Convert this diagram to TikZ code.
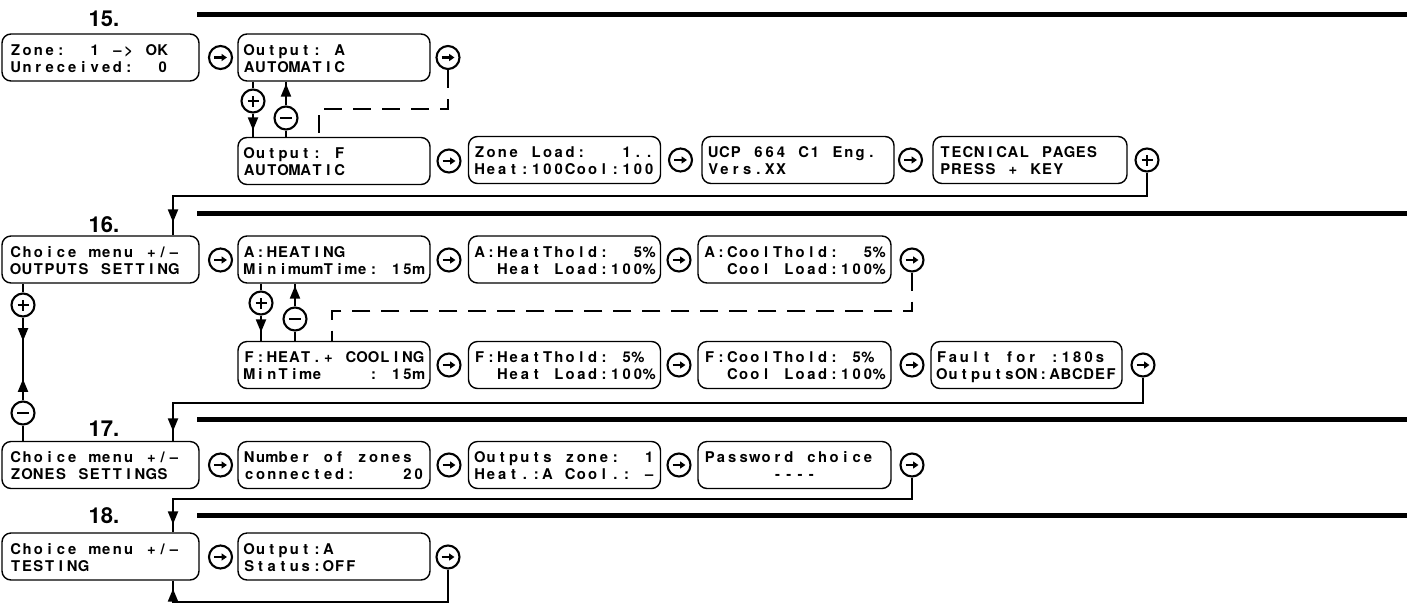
\documentclass[tikz,border=0pt]{standalone}
\usepackage{fontspec}
\usetikzlibrary{arrows.meta,decorations.markings}
\newfontfamily\heros{TeX Gyre Heros}
\newdimen\lcdcw \lcdcw=11.3pt
\newdimen\lcdtw \lcdtw=180.8pt
\ExplSyntaxOn
\cs_new:Npn \lcdline #1
  {
    \str_map_inline:nn {#1}
      {
        \str_if_eq:nnTF {##1} {_}
          { \hbox_to_wd:nn {\lcdcw} {} }
          {
            \str_if_eq:nnTF {##1} {|}
              { \hbox_to_wd:nn {\lcdcw} { \hss \% \hss } }
              { \hbox_to_wd:nn {\lcdcw} { \hss ##1 \hss } }
          }
      }
  }
\ExplSyntaxOff
\newcommand\two[2]{\vbox{\baselineskip=17pt\lineskiplimit=-100pt\lineskip=0pt
  \hbox to \lcdtw{\smash{\lcdline{#1}}\hss\rule[-1pt]{0pt}{14pt}}%
  \hbox to \lcdtw{\smash{\lcdline{#2}}\hss\rule[-1pt]{0pt}{2pt}}}}
\begin{document}
\begin{tikzpicture}[x=1pt,y=-1pt,
  lcd/.style={draw, line width=1.4pt, rounded corners=9pt, minimum width=192pt,
    minimum height=47pt, inner sep=0pt, font=\heros\bfseries\fontsize{14.8}{17}\selectfont},
  btn/.style={circle, draw, line width=2.1pt, minimum size=23pt, inner sep=0pt},
  nxt/.style={btn, path picture={\draw[line width=2.3pt, -{Triangle[length=5.5pt,width=7pt]}]
      ([xshift=-6.5pt]path picture bounding box.center) -- ([xshift=6.5pt]path picture bounding box.center);}},
  pls/.style={btn, path picture={\draw[line width=2.6pt]
      ([xshift=-5.5pt]path picture bounding box.center) -- ([xshift=5.5pt]path picture bounding box.center)
      ([yshift=-5.5pt]path picture bounding box.center) -- ([yshift=5.5pt]path picture bounding box.center);}},
  mns/.style={btn, path picture={\draw[line width=2.6pt]
      ([xshift=-6pt]path picture bounding box.center) -- ([xshift=6pt]path picture bounding box.center);}},
  sec/.style={anchor=base, inner sep=0pt, font=\heros\bfseries\fontsize{22}{22}\selectfont},
  conn/.style={line width=2.2pt},
  dashconn/.style={line width=2.2pt, dash pattern=on 18pt off 11pt},
  bar/.style={line width=5pt},
  tipfwd/.style={postaction={decorate, decoration={markings,
      mark=at position #1 with {\arrow{Triangle[length=13pt,width=10pt]}}}}},
  tipbwd/.style={postaction={decorate, decoration={markings,
      mark=at position #1 with {\arrowreversed{Triangle[length=13pt,width=10pt]}}}}}
]
\useasboundingbox (0,0) rectangle (1407,606);

% ---------- 15 ----------
\node[sec] (s15) at (104,26) {15.};
\draw[bar] (197,14.5) -- (1407,14.5);
\node[lcd, minimum width=197pt] (zone) at (100.5,57.5) {\two{Zone:__1_–>_OK}{Unreceived:__0}};
\node[nxt] (b1) at (220.5,57.5) {};
\node[lcd] (outA) at (334,57.5) {\two{Output:_A}{AUTOMATIC}};
\node[nxt] (b2) at (448,57.5) {};
\node[pls] (p15) at (253,101) {};
\node[mns] (m15) at (286,118) {};
\node[lcd] (outF) at (334,161) {\two{Output:_F}{AUTOMATIC}};
\node[nxt] (b3) at (449,161) {};
\node[lcd] (zload) at (564.5,160) {\two{Zone_Load:___1..}{Heat:100Cool:100}};
\node[nxt] (b4) at (680.5,160) {};
\node[lcd] (ucp) at (798,160) {\two{UCP_664_C1_Eng.}{Vers.XX}};
\node[nxt] (b5) at (910.5,160) {};
\node[lcd, minimum width=194pt] (tec) at (1030,160) {\two{TECNICAL_PAGES}{PRESS_+_KEY}};
\node[pls] (p15b) at (1147,160) {};

\draw[conn] (outA.south -| p15) -- (p15);
\draw[conn, tipfwd=-6.5pt] (p15) -- (p15 |- outF.north);
\draw[conn] (m15) -- (m15 |- outF.north);
\draw[conn, tipfwd=-2pt] (m15) -- (m15 |- outA.south);
\coordinate (d15) at (319,109);
\draw[dashconn] (b2) |- (d15) -- (d15 |- outF.north);

% ---------- 16 ----------
\node[sec] (s16) at (104,232) {16.};
\draw[bar] (197,213.5) -- (1407,213.5);
\node[lcd, minimum width=197pt] (c16) at (100.5,259.5) {\two{Choice_menu_+/–}{OUTPUTS_SETTING}};
\node[nxt] (b6) at (220.5,260) {};
\node[lcd] (ah) at (334,259.5) {\two{A:HEATING}{MinimumTime:_15m}};
\node[nxt] (b7) at (449,260) {};
\node[lcd] (aht) at (564.5,259.5) {\two{A:HeatThold:__5|}{__Heat_Load:100|}};
\node[nxt] (b8) at (679,260) {};
\node[lcd, minimum width=193pt] (act) at (794.5,259.5) {\two{A:CoolThold:__5|}{__Cool_Load:100|}};
\node[nxt] (b9) at (912,260) {};
\node[pls] (p16) at (261,303) {};
\node[mns] (m16) at (295,319) {};
\node[lcd] (fh) at (334,365) {\two{F:HEAT.+_COOLING}{MinTime____:_15m}};
\node[nxt] (b10) at (449,365) {};
\node[lcd] (fht) at (564.5,365) {\two{F:HeatThold:_5|}{__Heat_Load:100|}};
\node[nxt] (b11) at (679,365) {};
\node[lcd, minimum width=193pt] (fct) at (794.5,365) {\two{F:CoolThold:_5|}{__Cool_Load:100|}};
\node[nxt] (b12) at (912,365) {};
\node[lcd, minimum width=191pt] (flt) at (1026.5,365) {\two{Fault_for_:180s}{OutputsON:ABCDEF}};
\node[nxt] (b13) at (1143,365) {};
\node[pls] (lp) at (23,305) {};
\node[mns] (lm) at (23,413) {};

\coordinate (r1) at (173,196);
\draw[conn, tipfwd=-13pt] (p15b) |- (r1) -- (r1 |- c16.north);
\draw[conn] (ah.south -| p16) -- (p16);
\draw[conn, tipfwd=-8.5pt] (p16) -- (p16 |- fh.north);
\draw[conn] (m16) -- (m16 |- fh.north);
\draw[conn, tipfwd=-2pt] (m16) -- (m16 |- ah.south);
\coordinate (d16) at (332,311);
\draw[dashconn] (b9) |- (d16) -- (d16 |- fh.north);
\draw[conn] (c16.south -| lp) -- (lp);
\draw[conn, tipfwd=23.5pt, tipbwd=-21.5pt] (lp) -- (lm);

% ---------- 17 ----------
\node[sec] (s17) at (104,436) {17.};
\draw[bar] (197,419) -- (1407,419);
\node[lcd, minimum width=197pt] (c17) at (100.5,465) {\two{Choice_menu_+/–}{ZONES_SETTINGS}};
\node[nxt] (b14) at (220.5,465) {};
\node[lcd] (nz) at (334,465) {\two{Number_of_zones}{connected:____20}};
\node[nxt] (b15) at (449,465) {};
\node[lcd] (oz) at (564.5,465) {\two{Outputs_zone:__1}{Heat.:A_Cool.:_–}};
\node[nxt] (b16) at (679,465) {};
\node[lcd, minimum width=193pt] (pw) at (794.5,465) {\two{Password_choice}{______----}};
\node[nxt] (b17) at (912,465) {};

\draw[conn] (lm) -- (lm |- c17.north);
\coordinate (r2) at (173,403);
\draw[conn, tipfwd=-9.5pt] (b13) |- (r2) -- (r2 |- c17.north);

% ---------- 18 ----------
\node[sec] (s18) at (104,523) {18.};
\draw[bar] (197,515) -- (1407,515);
\node[lcd, minimum width=197pt] (c18) at (100.5,556.5) {\two{Choice_menu_+/–}{TESTING}};
\node[nxt] (b18) at (220.5,557) {};
\node[lcd] (o18) at (334,556.5) {\two{Output:A}{Status:OFF}};
\node[nxt] (b19) at (448,557) {};

\coordinate (r3) at (173,499);
\draw[conn, tipfwd=-8pt] (b17) |- (r3) -- (r3 |- c18.north);
\coordinate (r4) at (173,602);
\draw[conn, tipfwd=-8pt] (b19) |- (r4) -- (r4 |- c18.south);
\end{tikzpicture}
\end{document}
